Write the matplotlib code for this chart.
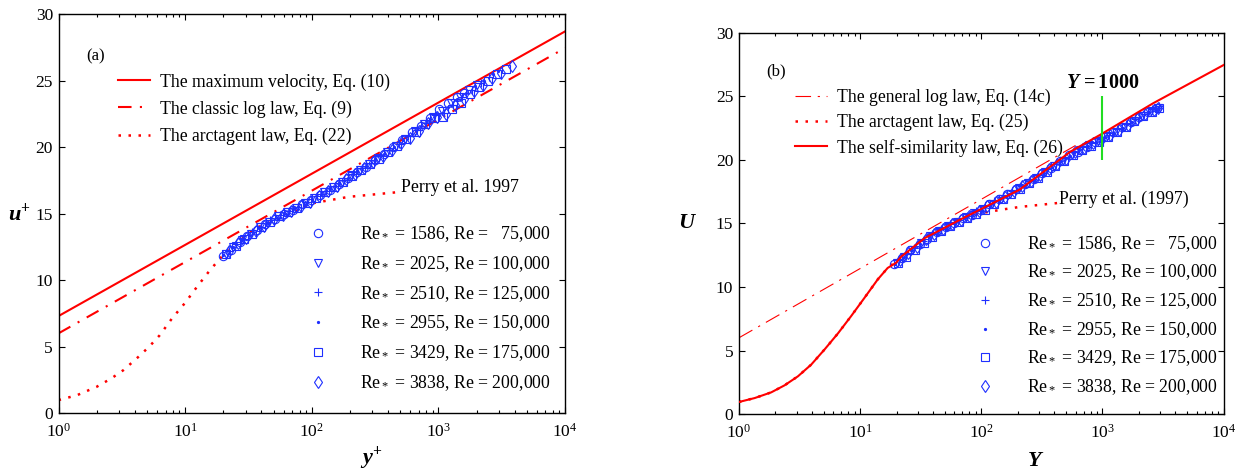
import numpy as np
import matplotlib
matplotlib.use('Agg')
import matplotlib.pyplot as plt

plt.rcParams['font.family'] = 'Liberation Serif'
plt.rcParams['mathtext.fontset'] = 'custom'
plt.rcParams['mathtext.rm'] = 'Liberation Serif'
plt.rcParams['mathtext.it'] = 'Liberation Serif:italic'
plt.rcParams['mathtext.bf'] = 'Liberation Serif:bold'
plt.rcParams['mathtext.bfit'] = 'Liberation Serif:italic:bold'

RED = '#ff0000'
BLUE = '#1f2fff'

#legend labels
re_labels = [r'Re$_*$ = 1586, Re =   75,000',
             r'Re$_*$ = 2025, Re = 100,000',
             r'Re$_*$ = 2510, Re = 125,000',
             r'Re$_*$ = 2955, Re = 150,000',
             r'Re$_*$ = 3429, Re = 175,000',
             r'Re$_*$ = 3838, Re = 200,000']
markers = ['o', 'v', '+', '.', 's', 'd']

#panel (a): theory lines
a_max_x = [1, 1e4]
a_max_u = [7.3, 28.7]
a_log_x = [1, 1e4]
a_log_u = [6.0, 27.45]
a_atan_x = [1, 1.4, 2, 2.6, 3.25, 4.27, 5.2, 6.3, 7.84, 10, 12.4, 15.7, 20, 26.3, 35.7, 61.5, 100, 195, 513]
a_atan_u = [0.98, 1.35, 1.98, 2.6, 3.23, 4.23, 5.0, 5.86, 7.1, 8.3, 9.5, 10.75, 11.9, 12.9, 13.9, 14.76, 15.77, 16.26, 16.64]

#panel (a): measured profiles (y+, u+)
a_y1 = [20, 23, 27, 31, 37, 43, 51, 60, 71, 84, 99, 117, 138, 163, 192, 227, 268, 316, 373, 440, 520, 614, 725, 856, 1010, 1190, 1400, 1586]
a_u1 = [11.8, 12.3, 12.9, 13.3, 13.8, 14.2, 14.6, 15.0, 15.3, 15.7, 16.0, 16.4, 16.8, 17.2, 17.7, 18.1, 18.5, 19.0, 19.5, 20.0, 20.5, 21.1, 21.6, 22.2, 22.9, 23.3, 23.8, 24.1]
a_y2 = [21, 24, 28, 33, 39, 46, 54, 64, 75, 89, 105, 124, 146, 172, 203, 240, 283, 334, 394, 465, 549, 648, 765, 903, 1066, 1258, 1485, 1752, 2025]
a_u2 = [12.0, 12.5, 13.0, 13.5, 14.0, 14.4, 14.8, 15.1, 15.4, 15.8, 16.2, 16.6, 17.0, 17.4, 17.9, 18.3, 18.7, 19.2, 19.6, 20.1, 20.6, 21.2, 21.7, 22.3, 22.7, 23.3, 23.8, 24.3, 24.7]
a_y3 = [22, 25, 29, 34, 40, 47, 56, 66, 78, 92, 109, 129, 152, 179, 211, 249, 294, 347, 410, 484, 571, 674, 796, 940, 1110, 1310, 1546, 1825, 2154, 2510]
a_u3 = [12.2, 12.7, 13.1, 13.6, 14.0, 14.5, 14.9, 15.2, 15.5, 15.9, 16.3, 16.7, 17.1, 17.5, 18.0, 18.4, 18.8, 19.3, 19.8, 20.2, 20.8, 21.3, 21.8, 22.4, 22.6, 23.2, 23.8, 24.3, 24.8, 25.3]
a_y4 = [20, 24, 28, 32, 38, 45, 53, 62, 73, 86, 101, 119, 140, 165, 194, 229, 270, 318, 375, 442, 521, 614, 724, 853, 1005, 1185, 1397, 1646, 1940, 2287, 2696, 2955]
a_u4 = [11.9, 12.5, 13.0, 13.4, 13.9, 14.3, 14.7, 15.0, 15.4, 15.7, 16.1, 16.5, 16.9, 17.3, 17.7, 18.2, 18.6, 19.1, 19.5, 20.0, 20.5, 21.0, 21.6, 22.1, 22.4, 23.0, 23.6, 24.1, 24.6, 25.0, 25.5, 25.7]
a_y5 = [21, 25, 29, 34, 40, 47, 55, 65, 77, 91, 107, 126, 149, 176, 208, 245, 289, 341, 402, 474, 559, 660, 779, 919, 1084, 1279, 1509, 1780, 2100, 2478, 2924, 3429]
a_u5 = [12.0, 12.6, 13.1, 13.5, 14.0, 14.4, 14.8, 15.1, 15.4, 15.8, 16.2, 16.6, 17.0, 17.4, 17.8, 18.3, 18.7, 19.1, 19.6, 20.1, 20.6, 21.1, 21.7, 22.2, 22.3, 22.9, 23.3, 24.0, 24.5, 25.0, 25.5, 25.9]
a_y6 = [22, 26, 30, 36, 42, 50, 59, 69, 82, 96, 114, 134, 158, 187, 220, 260, 307, 362, 427, 504, 595, 702, 828, 977, 1153, 1360, 1605, 1894, 2235, 2637, 3111, 3838]
a_u6 = [12.2, 12.8, 13.2, 13.7, 14.1, 14.6, 14.9, 15.2, 15.6, 15.9, 16.3, 16.7, 17.1, 17.6, 18.0, 18.4, 18.9, 19.3, 19.8, 20.3, 20.7, 21.2, 21.8, 22.3, 22.5, 23.2, 23.6, 24.2, 24.7, 25.2, 25.6, 26.1]

#panel (b): theory lines
b_log_x = [1, 600]
b_log_u = [6.0, 21.14]
b_atan_x = [1, 1.35, 1.85, 2.38, 3.07, 3.95, 5.09, 6.56, 8.44, 10.9, 14.0, 16.9, 19.8, 30, 45, 62, 98, 150, 207, 330, 480]
b_atan_u = [0.95, 1.26, 1.71, 2.26, 2.97, 3.89, 5.08, 6.34, 7.71, 9.16, 10.6, 11.5, 12.0, 13.3, 14.6, 15.3, 15.8, 16.1, 16.3, 16.5, 16.66]
b_self_x = [1, 1.35, 1.85, 2.38, 3.07, 3.95, 5.09, 6.56, 8.44, 10.9, 14.0, 16.9, 19.8, 21.9, 34.3, 67, 98, 207, 546, 955, 2620, 10000]
b_self_u = [0.95, 1.26, 1.71, 2.26, 2.97, 3.89, 5.08, 6.34, 7.71, 9.16, 10.6, 11.5, 11.9, 12.4, 13.86, 15.3, 16.1, 17.66, 20.66, 21.97, 24.46, 27.47]

#panel (b): measured profiles (Y, U)
b_y1 = [19, 22, 26, 31, 36, 43, 51, 60, 71, 84, 99, 117, 139, 164, 194, 229, 271, 320, 379, 448, 529, 626, 740, 875, 1034, 1222, 1445, 1708, 2019, 2387, 2820]
b_u1 = [11.8, 12.3, 12.9, 13.4, 13.8, 14.3, 14.7, 15.0, 15.4, 15.7, 16.1, 16.5, 16.9, 17.3, 17.7, 18.1, 18.5, 19.0, 19.4, 19.9, 20.4, 20.6, 21.0, 21.4, 21.8, 22.2, 22.6, 23.0, 23.4, 23.8, 24.1]
b_y2 = [20, 23, 27, 32, 38, 45, 53, 63, 75, 88, 104, 123, 146, 172, 204, 241, 285, 337, 398, 470, 556, 657, 777, 918, 1085, 1283, 1516, 1792, 2118, 2504, 2900]
b_u2 = [11.9, 12.35, 12.9, 13.45, 14.0, 14.4, 14.8, 15.15, 15.5, 15.8, 16.15, 16.55, 16.95, 17.35, 17.8, 18.15, 18.6, 19.05, 19.5, 19.95, 20.4, 20.8, 21.15, 21.5, 21.85, 22.2, 22.6, 23.05, 23.45, 23.85, 24.1]
b_y3 = [21, 24, 28, 33, 39, 47, 55, 65, 77, 91, 108, 128, 151, 178, 211, 249, 295, 348, 412, 487, 575, 680, 804, 950, 1123, 1327, 1569, 1855, 2192, 2591, 2950]
b_u3 = [12.15, 12.6, 13.1, 13.65, 14.15, 14.6, 14.95, 15.3, 15.6, 15.95, 16.35, 16.75, 17.1, 17.55, 17.95, 18.35, 18.8, 19.25, 19.7, 20.15, 20.6, 21.0, 21.3, 21.65, 22.0, 22.4, 22.8, 23.25, 23.65, 24.0, 24.25]
b_y4 = [19.5, 23, 27, 31.5, 37, 44, 52, 61.5, 73, 86, 101.5, 120, 142, 168, 198.5, 234.5, 277, 327.5, 387, 457.5, 541, 639, 755.5, 893, 1055, 1247, 1474, 1742, 2059, 2433, 2880]
b_u4 = [11.8, 12.35, 12.9, 13.4, 13.9, 14.35, 14.75, 15.1, 15.45, 15.75, 16.1, 16.5, 16.9, 17.3, 17.7, 18.1, 18.5, 19.0, 19.45, 19.9, 20.3, 20.75, 21.1, 21.45, 21.8, 22.15, 22.55, 23.0, 23.4, 23.8, 24.1]
b_y5 = [20.5, 24, 28.5, 33.5, 39.5, 46.5, 55, 65, 77, 91, 107, 127, 150, 177, 210, 248, 293, 346, 409, 483, 571, 675, 798, 943, 1114, 1317, 1557, 1840, 2175, 2570, 2930]
b_u5 = [11.9, 12.4, 12.95, 13.5, 13.95, 14.4, 14.8, 15.1, 15.45, 15.75, 16.1, 16.55, 16.9, 17.35, 17.75, 18.15, 18.55, 19.05, 19.5, 19.9, 20.4, 20.8, 21.1, 21.45, 21.8, 22.2, 22.6, 23.05, 23.45, 23.8, 24.05]
b_y6 = [21.5, 25, 29.5, 35, 41, 48.5, 57.5, 68, 80, 95, 112, 132, 156, 185, 218, 258, 305, 360, 426, 503, 595, 703, 831, 982, 1160, 1371, 1621, 1915, 2264, 2676, 2850]
b_u6 = [12.1, 12.65, 13.15, 13.75, 14.15, 14.6, 14.95, 15.3, 15.6, 15.95, 16.35, 16.7, 17.1, 17.55, 17.95, 18.35, 18.8, 19.25, 19.7, 20.1, 20.6, 20.95, 21.3, 21.6, 22.0, 22.35, 22.75, 23.2, 23.6, 23.95, 24.1]

a_data = [(a_y1, a_u1), (a_y2, a_u2), (a_y3, a_u3), (a_y4, a_u4), (a_y5, a_u5), (a_y6, a_u6)]
b_data = [(b_y1, b_u1), (b_y2, b_u2), (b_y3, b_u3), (b_y4, b_u4), (b_y5, b_u5), (b_y6, b_u6)]


def style_axes(ax):
    ax.set_xscale('log')
    ax.set_xlim(1, 1e4)
    ax.set_ylim(0, 30)
    ax.set_yticks([0, 5, 10, 15, 20, 25, 30])
    ax.tick_params(which='both', direction='in', top=True, right=True, labelsize=12.5, width=0.8)
    ax.tick_params(which='major', length=4)
    ax.tick_params(axis='x', which='major', pad=7)
    ax.tick_params(axis='y', which='major', pad=4)
    ax.tick_params(which='minor', length=2.5)
    for s in ax.spines.values():
        s.set_linewidth(1.0)


def plot_data(ax, data):
    handles = []
    for (x, y), m, lab in zip(data, markers, re_labels):
        ms = 3 if m == '.' else 6
        h, = ax.plot(x, y, ls='none', marker=m, ms=ms, mfc='none' if m != '.' else BLUE,
                     mec=BLUE, mew=0.8, label=lab, zorder=3)
        handles.append(h)
    return handles


fig = plt.figure(figsize=(12.46, 4.70), dpi=100)
ax1 = fig.add_axes([0.047, 0.121, 0.4065, 0.849])
ax2 = fig.add_axes([0.593, 0.119, 0.389, 0.811])

#panel (a)
style_axes(ax1)
l1, = ax1.plot(a_max_x, a_max_u, color=RED, lw=1.5, label='The maximum velocity, Eq. (10)')
l2, = ax1.plot(a_log_x, a_log_u, color=RED, lw=1.5, ls=(0, (6.5, 4, 1, 4)), label='The classic log law, Eq. (9)')
l3, = ax1.plot(a_atan_x, a_atan_u, color=RED, lw=1.8, ls=(0, (1, 3)), label='The arctagent law, Eq. (22)')
hd = plot_data(ax1, a_data)
ax1.text(507, 16.94, 'Perry et al. 1997', fontsize=12.8, va='center', ha='left')
ax1.text(0.054, 0.895, '(a)', transform=ax1.transAxes, fontsize=12, va='center')

leg1 = ax1.legend(handles=[l1, l2, l3], loc='center left', bbox_to_anchor=(0.1175, 0.762),
                  frameon=False, fontsize=12.7, handlelength=1.8, handletextpad=0.6,
                  labelspacing=0.55, borderpad=0, borderaxespad=0)
ax1.add_artist(leg1)
ax1.legend(handles=hd, loc='center left', bbox_to_anchor=(0.494, 0.262), frameon=False,
           fontsize=12.8, handlelength=1.0, handletextpad=1.9, labelspacing=0.56,
           borderpad=0, borderaxespad=0)

ax1.set_xlabel(r'$\mathbfit{y}^{\mathbf{+}}$', fontsize=16)
ax1.xaxis.set_label_coords(0.617, -0.078)
ax1.set_ylabel(r'$\mathbfit{u}^{\mathbf{+}}$', fontsize=16, rotation=0, ha='right', va='center')
ax1.yaxis.set_label_coords(-0.056, 0.5)

#panel (b)
style_axes(ax2)
m1, = ax2.plot(b_log_x, b_log_u, color=RED, lw=0.8, ls=(0, (14, 6, 2, 6)), label='The general log law, Eq. (14c)')
m2, = ax2.plot(b_atan_x, b_atan_u, color=RED, lw=1.8, ls=(0, (1, 3)), label='The arctagent law, Eq. (25)')
hd2 = plot_data(ax2, b_data)
m3, = ax2.plot(b_self_x, b_self_u, color=RED, lw=1.5, label='The self-similarity law, Eq. (26)', zorder=4)
ax2.vlines(1000, 20, 25, color='#22dd22', lw=1.5, zorder=5)
ax2.text(1000, 26.0, r'$\mathbfit{Y}\,\mathbf{=1000}$', fontsize=14.5, ha='center', va='center')
ax2.text(436, 16.9, 'Perry et al. (1997)', fontsize=12.8, va='center', ha='left')
ax2.text(0.056, 0.898, '(b)', transform=ax2.transAxes, fontsize=12, va='center')

leg2 = ax2.legend(handles=[m1, m2, m3], loc='center left', bbox_to_anchor=(0.1155, 0.764),
                  frameon=False, fontsize=12.7, handlelength=1.8, handletextpad=0.6,
                  labelspacing=0.42, borderpad=0, borderaxespad=0)
ax2.add_artist(leg2)
ax2.legend(handles=hd2, loc='center left', bbox_to_anchor=(0.490, 0.2585), frameon=False,
           fontsize=12.8, handlelength=1.0, handletextpad=1.85, labelspacing=0.5,
           borderpad=0, borderaxespad=0)

ax2.set_xlabel(r'$\mathbfit{Y}$', fontsize=16)
ax2.xaxis.set_label_coords(0.612, -0.100)
ax2.set_ylabel(r'$\mathbfit{U}$', fontsize=16, rotation=0, ha='right', va='center')
ax2.yaxis.set_label_coords(-0.087, 0.5)

fig.savefig('out.png', dpi=100)
